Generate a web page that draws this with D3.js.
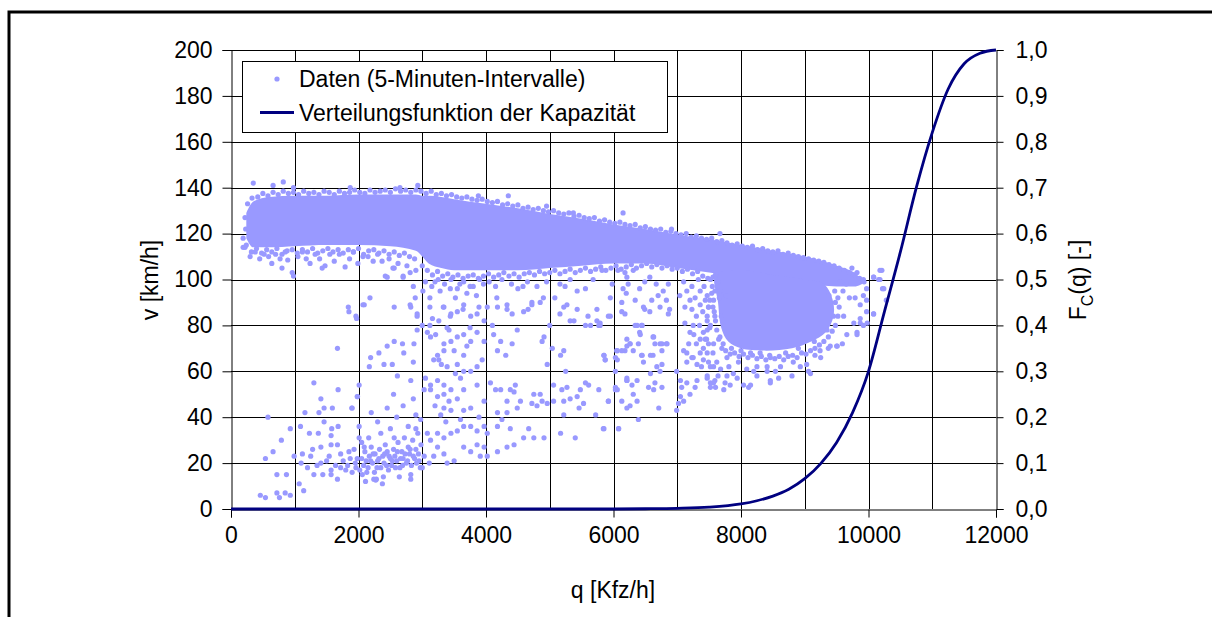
<!DOCTYPE html>
<html>
<head>
<meta charset="utf-8">
<script src="https://cdn.jsdelivr.net/npm/d3@7"></script>
<style>
  html, body { margin: 0; padding: 0; background: #fff; }
  svg { display: block; }
  text { font-family: "Liberation Sans", Arial, sans-serif; fill: #000; }
</style>
</head>
<body>
<svg id="chart" width="1212" height="617"></svg>
<script>
// ---- axis ticks ----
const qTicks = [0, 2000, 4000, 6000, 8000, 10000, 12000];
const qGrid = [1000, 2000, 3000, 4000, 5000, 6000, 7000, 8000, 9000, 10000, 11000];
const vTicks = [0, 20, 40, 60, 80, 100, 120, 140, 160, 180, 200];
const fTicks = [0, 0.1, 0.2, 0.3, 0.4, 0.5, 0.6, 0.7, 0.8, 0.9, 1.0];
const fTickLabels = ["0,0", "0,1", "0,2", "0,3", "0,4", "0,5", "0,6", "0,7", "0,8", "0,9", "1,0"];

// ---- capacity distribution function F_C(q) ----
const capQ = [0, 6000, 6500, 7000, 7500, 8000, 8250, 8500, 8750, 9000, 9250, 9500, 9750, 10000, 10250, 10500, 10750, 11000, 11250, 11500, 11750, 12000];
const capF = [0, 0, 0.0005, 0.0015, 0.004, 0.011, 0.018, 0.028, 0.043, 0.066, 0.099, 0.145, 0.21, 0.30, 0.43, 0.56, 0.70, 0.82, 0.915, 0.97, 0.993, 1.0];

// ---- densely populated free-flow band (5-min intervals overlap completely) ----
const bandQ     = [240, 350, 600, 1000, 1500, 2000, 2500, 2900, 3000, 3100, 3300, 3500, 4000, 4500, 5000, 5500, 6000, 6500, 7000, 7500, 8000, 8500, 9000, 9500, 9800, 9900];
const bandUpper = [129, 134, 136, 136.5, 136.5, 137, 137, 137, 136.5, 136.5, 136, 135, 133, 131, 128.5, 126.5, 124, 122, 119.5, 117.5, 115, 112.5, 110, 106, 102.5, 100];
const bandLower = [118, 114, 114, 114.5, 115, 115, 114.5, 112.5, 110, 107, 105, 104, 104, 104, 105, 106, 107, 107, 105, 103, 101, 99, 98, 97, 97, 98];

// ---- densely populated congested cluster (outline), joined to the band above ----
const congestedOutline = [[7600, 102], [8000, 104], [8500, 102], [9000, 100], [9300, 98], [9440, 91], [9450, 84], [9330, 77], [9100, 73], [8800, 70], [8400, 69], [8000, 70], [7800, 73], [7690, 79], [7640, 90]];

// ---- individual intervals ----
const bandTopEdge = [
  [260,133],[330,135.5],[420,136],[500,137.5],[580,136.5],[660,138],[740,137],[820,138.5],[900,137.5],[980,138],[1060,137],[1140,138.5],[1220,137.5],[1300,138],[1380,137],[1460,138.5],[1540,138],[1620,137],[1700,138.5],[1780,137.5],[1860,138],[1940,139],[2020,138],[2100,137.5],[2180,139],[2260,138],[2340,138.5],[2420,139],[2500,138],[2580,139.5],[2660,138.5],[2740,139],[2820,138],[2900,139],[2980,138.5],
  [3060,137.5],[3140,138.5],[3220,137],[3300,137.5],[3380,136.5],[3460,137],[3540,136],[3620,135.5],[3700,136],[3780,135],[3860,134.5],[3940,135],[4020,134],[4100,133.5],[4180,134],[4260,132.5],[4340,133],[4420,132],[4500,132.5],[4580,131],[4660,131.5],[4740,130.5],[4820,131],[4900,130],[4980,129.5],[5060,130],[5140,129],[5220,128.5],[5300,129],[5380,127.5],[5460,128],[5540,127],[5620,126.5],[5700,127],[5780,125.5],[5860,126],[5940,125],
  [6020,124.5],[6100,125],[6180,124],[6260,123.5],[6340,124],[6420,122.5],[6500,123],[6580,122],[6660,121.5],[6740,122],[6820,120.5],[6900,121],[6980,120],[7060,119.5],[7140,120],[7220,118.5],[7300,119],[7380,118],[7460,117.5],[7540,118],[7620,116.5],[7700,117],[7780,116],[7860,115],[7940,115.5],[8020,114.5],[8100,114],[8180,114.5],[8260,113],[8340,113.5],[8420,112.5],[8500,112],[8580,112.5],[8660,111],[8740,111.5],[8820,110.5],[8900,110],[8980,109.5],[9060,109],[9140,108.5],[9220,108],[9300,107.5],[9380,106.5],[9460,106],[9540,105],[9620,104],[9700,103],[9780,102],[9860,100.5],[9930,99],
  [350,142],[660,141],[820,142.5],[980,140],[1870,140],[2650,140],[2930,141],[3880,136.5],[4350,136.5],[4950,132],[5370,129],[6150,129],[6910,122],[7670,120]
];

const bandBottomEdge = [
  [190,114],[220,127],[230,122],[190,118],[220,114],
  [240,115],[320,112],[400,113.5],[480,111.5],[560,113],[640,112],[720,113.5],[800,111],[880,112.5],[960,113],[1040,111.5],[1120,113],[1200,112],[1280,113.5],[1360,111.5],[1440,112.5],[1520,113.5],[1600,112],[1680,113],[1760,111.5],[1840,113],[1920,112],[2000,113.5],[2080,111],[2160,112.5],[2240,113],[2320,111.5],[2400,112.5],[2480,111],[2560,112],[2640,110.5],[2720,111.5],[2800,110],[2880,109],
  [3000,106],[3080,104],[3160,102],[3240,103.5],[3320,101.5],[3400,102.5],[3480,101],[3560,102],[3640,100.5],[3720,101.5],[3800,102],[3880,100.5],[3960,101.5],[4040,102.5],[4120,101],[4200,102],[4280,103],[4360,101.5],[4440,102.5],[4520,101],[4600,102.5],[4680,103],[4760,102],[4840,103.5],[4920,102.5],[5000,103],[5080,104],[5160,102.5],[5240,103.5],[5320,104.5],[5400,103],[5480,104],[5560,105],[5640,103.5],[5720,104.5],[5800,105.5],[5880,104],[5960,105],[6040,106],[6120,104.5],[6200,105.5],[6280,106.5],[6360,105],[6440,106],[6520,107],[6600,105.5],[6680,106.5],[6760,105],[6840,106],[6920,104.5],[7000,105],[7080,103.5],[7160,104.5],[7240,102.5],[7320,103.5],[7400,101.5],[7480,100.5],[7560,101],
  [640,107],[800,105],[960,103],[980,101.5],[890,108.5],[1240,107],[1430,105],[1475,106],[1790,105.5],[1990,107],[2070,110],[2150,110],[2420,101.5],[2560,105],[2700,101.5],[2810,103],
  [300,110],[380,112],[450,109],[520,111],[590,110],[700,111],[770,109],[850,112],[1050,110],[1120,112],[1180,109],[1320,111],[1390,109],[1550,111],[1620,108],[1700,111],[1860,109],[1920,112],[2230,108],[2300,111],[2370,108],[2480,109],[2620,107],[2760,106],[2900,104],
  [3050,99],[3150,97],[3250,100],[3350,98],[3450,100],[3550,96],[3650,99],[3800,97],[3900,100],[4050,99],[4150,97],[4250,100],[4400,98],[4500,96],[4650,99],[4800,97],[4950,99]
];

const lowSpeedPts = [
  [460,6],[540,5],[720,7],[760,5],[850,7],[930,6],[870,15],[720,15],[540,22],[660,25],[790,30],[930,35],[580,40],
  [1070,11],[1140,8],[1100,20],[1300,15],[1440,15],[1570,15],[1670,13],[1410,20],[1570,17],[1720,18],[1800,17],[1900,16],[1960,18],[1830,19],
  [990,23],[1120,24],[1250,23],[1280,26],[1410,27],[1540,23],[1570,28],[1670,28],[1720,24],[1850,25],[1930,26],[1230,33],[1090,36],[1370,33],[1570,32],[1680,36],[1580,35],[1460,38],
  [1380,42],[1160,42],[1460,44],[1590,44],[1410,48],[1300,55],[1680,52],[1900,44],[1980,49],[2010,54],[2010,36],[2010,31],
  [2020,17],[2050,22],[2080,19],[2100,25],[2120,21],[2150,18],[2170,23],[2200,27],[2220,20],[2250,16],[2260,24],[2300,21],[2330,26],[2350,18],[2380,23],[2400,20],[2420,28],[2450,25],[2470,17],[2500,22],[2520,19],[2550,26],[2570,23],[2600,21],[2620,29],[2650,18],[2680,25],[2700,22],[2720,31],[2750,20],[2780,27],[2800,24],[2830,19],[2850,30],[2880,22],[2900,26],[2930,33],[2950,21],[2980,28],[2110,12],[2280,13],[2390,14],[2160,31],[2350,33],[2500,35],[2640,14],[2820,15],[2050,29],[2240,13],[2560,31],[2270,12.6],[2375,11],[2820,13],
  [2130,16],[2190,21],[2230,24],[2290,18],[2320,22],[2410,24],[2440,19],[2480,23],[2530,21],[2580,18],[2610,25],[2660,22],[2690,19],[2730,24],[2770,21],[2810,26],[2860,23],[2910,20],[2940,24],[2970,18],[2060,15],[2090,27],[1980,22],[1950,20],[1870,22],[1760,21],[1640,19],[1500,21],[1350,19],[1200,18],
  [2860,48],[2900,41],[2820,56],[2610,58],[2975,39],[1895,44],[1985,49],[2600,40],[2450,44],[2700,45],[2780,36],[2900,35],[2300,38],[2200,42],[2550,50],
  [2170,62],[2190,66],[2320,68],[2400,63],[2450,71],[2530,63],[2560,73],[2690,72],[2710,68],[2860,64],[2090,89],[1840,88],[1960,84],[2070,89],[2180,92],[2560,88],[2810,89],[2860,97],[2890,92],[2450,101],[2700,101],[2540,105],[2920,84],[2870,72],[2920,78],[3000,80],[2820,88],
  [1670,70],[1850,86],[1970,83]
];

const transitionPts = [
  [3130,30],[3240,27],[3340,24],[3180,23],[3390,20],[3500,21],[3650,27],[3760,25],[3860,28],[3910,23],[4020,23],[3970,27],[3080,33],[3240,33],[3340,31],[3450,33],[3550,34],[3650,36],[3760,36],[3860,34],[3970,36],[3030,23],[3110,20],[3000,18],
  [3290,41],[3370,38],[3340,44],[3450,43],[3420,47],[3240,49],[3340,50],[3130,52],[3030,52],[3450,52],[3130,54],[3240,56],[3340,54],[3520,59],[3600,57],[3650,52],[3860,54],[3970,47],[3760,44],[3650,43],[3890,40],[3600,39],[3050,57],[3550,48],[3200,45],
  [3180,65],[3260,65],[3390,62],[3550,63],[3650,60],[3760,60],[3860,62],[3940,65],[3240,67],[3340,69],[3340,72],[3450,73],[3550,75],[3650,76],[3760,73],[3860,77],[3130,75],[3210,76],[3080,77],[3650,67],[3500,69],[3970,73],[3300,63],[3420,78],[3700,71],
  [3160,83],[2920,85],[3340,88],[3450,85],[3550,86],[3650,89],[3760,84],[3890,88],[3260,82],[3970,82],[3010,95],[3120,92],[3280,95],[3440,96],[3590,98],[3750,97],[3960,98],[3120,88],[3330,88],[3440,84],[3640,87],[3860,85],[4020,88],[3120,80],[3390,79],[3750,79],[3520,92],[3850,93],[3200,99],[3700,94],
  [4180,25],[4330,27],[4440,28],[4590,31],[4750,31],[4910,31],[4020,33],[4180,36],[4380,35],[4670,35],[5170,33],[5400,31],[5850,35],[6080,35],
  [4070,55],[4150,52],[4230,52],[4380,52],[4460,54],[4440,51],[4330,47],[4540,47],[4720,46],[4850,50],[4880,47],[4750,50],[4180,42],[4330,42],[4490,44],[4800,45],[4960,46],[4250,39],[5060,54],[5190,52],[5270,53],[5320,48],[5220,47],[5430,49],[5480,52],[5560,55],[5610,54],[5770,52],[5220,41],[5060,47],[5460,44],[5530,46],[5720,41],[5920,47],[6060,52],[6210,57],[6030,52],
  [4100,80],[4120,76],[4230,73],[4180,69],[4310,67],[4410,72],[4490,78],[4910,75],[4880,73],[4960,63],[5040,70],[5170,67],[5220,69],[5250,60],[5850,67],[5870,65],[6060,69],[6060,65],[6210,71],[6210,56],
  [4180,88],[4330,89],[4590,86],[4720,89],[4850,90],[5220,88],[5380,82],[5560,80],[5640,80],[5740,82],[5770,80],[5950,84],[6130,86],[4410,85],[4170,92],[4330,87],[4580,97],[4720,90],[4900,92],[4660,87],[5080,92],[5160,98],[5240,97],[5320,100],[5430,95],[5560,96],[5680,100],[5980,98],[6150,96],[5430,87],[5600,84],[5740,87],[5790,81],[5920,84],[5950,92],[5270,89],[5160,85],[5000,80],[5320,82],
  [5820,104],[6070,104],[6210,101],[6180,103],[6310,104],[6230,98],[6200,94],[6340,91],[6410,96],[6490,99],[6570,101],[6670,98],[6700,93],[6830,91],[6780,95],[6860,98],[6600,91],[6470,88],[6490,87],[6570,86],[6730,88],[6860,85],[6880,87],[6130,90],[6180,85],[6340,80],[6440,80],[6410,77],[6620,75],[6260,72],[6390,72],[6730,72],[6830,72],[6620,67],[6440,67],[6180,69],
  [5790,80],[5850,67],[5870,65],[6030,66],[6050,69],[6130,69],[6210,74],[6370,80],[6450,80],[6420,76],[6260,72],[6310,69],[6630,75],[6650,72],[6760,72],[6840,72],[6580,67],[6760,69],[6450,67],[6470,64],[6030,60],[6210,56],[6290,54],[6370,56],[6580,59],[6680,62],[6730,60],[6760,63],[6650,55],[6550,53],[6630,52],[6760,53],[6310,50],[6370,47],[6260,45],[6210,44],[6130,47],[5920,47],[6030,53],[6710,44],[6390,39],[5840,35],[6080,35]
];

const congestedPts = [
  [6990,60],[7050,56],[7070,53],[7150,55],[7200,50],[7280,53],[7310,56],[7050,49],[7020,46],[7100,47],[6990,43],[7150,64],[7230,66],[7360,68],[7310,63],[7100,69],[7180,72],[7260,76],[7360,74],[7470,78],[7490,72],[7410,65],[7520,62],[7620,64],[7590,56],[7470,57],[7520,53],[7570,55],[7750,55],[7780,58],[7880,59],[7940,57],[8040,54],[8120,53],[8200,60],[8250,58],[8410,60],[8460,56],[8540,60],[8590,57],[8800,58],[8930,62],[9060,60],[9030,63],[9250,66],[9400,71],[9510,71],[9660,76],[9820,76],[9980,81],[10080,85],[9870,81],
  [7040,93],[7150,95],[7200,91],[7360,95],[7120,88],[7360,89],[7490,88],[7510,91],[7230,87],[7300,84],[7470,82],[7590,84],[7120,81],[7200,77],[7410,77],[7510,79],[7300,72],[7410,70],[7150,68],[7250,66],[7570,72],[7670,75],[7670,95],[7770,93],
  [7470,58],[7520,55],[7600,53],[7730,52],[7830,54],[8150,54],[8460,55],[9090,59],[9160,67],[9240,69],[9370,70],[9500,71],[9590,72],[9820,77],[9920,80],[9770,81],[9610,84],[9870,83],[9970,86],[9870,89],[9790,92],[9920,93],[9970,91],[9970,96],[9920,100],[10080,101],[10210,104],[10180,100],[10220,96],[10280,91],[9820,103],[9740,105],
  [7440,91],[7470,93],[7490,88],[7470,84],[7520,80],[7440,74],[7470,68],[7490,64],[7570,62],[7680,61],[7810,62],[7960,64],[8090,61],[8250,62],[8410,62],[8620,62],[8820,64],
  [10180,104],[10080,101],[10160,100],[10240,96],[10080,85],
  [7650,74],[7700,70],[7760,69],[7830,67.5],[7900,68],[7970,66.5],[8040,67.5],[8110,66],[8180,67],[8250,65.5],[8320,66.5],[8390,65],[8460,66],[8530,65.5],[8600,66.5],[8670,65],[8740,66.5],[8810,67],[8880,66],[8950,68],[9020,67.5],[9090,69],[9160,70],[9230,71.5],[9300,73],[9370,75],[9430,77.5],[9480,80],[9520,84],[9540,88],[9520,92],[9470,95],[9600,95],[9650,98],[9700,92],[9560,99],
  [7600,82],[7580,86],[7570,91],[7590,95],[7620,78],[7640,99],[7550,97],[7520,100],[7600,102],
  [7720,72],[7780,66],[7850,70],[8000,69],[8150,68],[8300,68],[8450,67],[8700,68],[8900,70],[9150,73],[9350,78],[9450,84],[9480,90],[9380,93],[7690,84],[7660,92],
  [7100,99],[7230,97],[7330,100],[7420,97],[7540,94],[7280,92],[7400,86],[7560,88],[7350,80],[7250,80],[7460,74],[7560,68],[7380,62],[7640,58]
];

// ---- geometry ----
const svg = d3.select("#chart");
const W = 1212, H = 617;
const x = d3.scaleLinear().domain([0, 12000]).range([231, 996]);
const yV = d3.scaleLinear().domain([0, 200]).range([509, 50]);
const yF = d3.scaleLinear().domain([0, 1]).range([509, 50]);
const crisp = v => Math.round(v) + 0.5;
const DOT = "#9999FF", NAVY = "#000080", FONT = 23, R = 2.6;

svg.append("rect").attr("width", W).attr("height", H).attr("fill", "#fff");

// outer chart frame (top and left edges)
svg.append("path")
  .attr("d", `M9,${H} V12 H${W}`)
  .attr("fill", "none").attr("stroke", "#000").attr("stroke-width", 3);

// gridlines
const grid = svg.append("g").attr("stroke", "#000").attr("stroke-width", 1);
grid.selectAll("line.v").data(qGrid).join("line").attr("class", "v")
  .attr("x1", d => crisp(x(d))).attr("x2", d => crisp(x(d)))
  .attr("y1", yV(200)).attr("y2", yV(0));
grid.selectAll("line.h").data(vTicks.filter(d => d > 0)).join("line").attr("class", "h")
  .attr("y1", d => crisp(yV(d))).attr("y2", d => crisp(yV(d)))
  .attr("x1", x(0)).attr("x2", x(12000));

// axes
const fmtInt = d3.format("d");
const axL = d3.axisLeft(yV).tickValues(vTicks).tickSize(9).tickPadding(10).tickFormat(fmtInt);
const axB = d3.axisBottom(x).tickValues(qTicks).tickSize(8).tickPadding(8).tickFormat(fmtInt);
const axR = d3.axisRight(yF).tickValues(fTicks).tickSize(7).tickPadding(12).tickFormat((d, i) => fTickLabels[i]);

function styleAxis(g) {
  g.select(".domain").attr("stroke", "#000").attr("stroke-width", 1);
  g.selectAll(".tick line").attr("stroke", "#000").attr("stroke-width", 1);
  g.selectAll(".tick text").attr("font-size", FONT).attr("font-family", "Liberation Sans, Arial, sans-serif").attr("fill", "#000");
}
svg.append("g").attr("transform", "translate(231.5,0)").call(axL).call(styleAxis);
svg.append("g").attr("transform", "translate(0,509.5)").call(axB).call(styleAxis)
  .selectAll(".tick text").attr("dy", "0.78em");
svg.append("g").attr("transform", "translate(996.5,0)").call(axR).call(styleAxis);

// data points
const pts = svg.append("g").attr("fill", DOT);
pts.append("path")
  .datum(bandQ.map((q, i) => ({ q, hi: bandUpper[i], lo: bandLower[i] })))
  .attr("d", d3.area().x(d => x(d.q)).y0(d => yV(d.lo)).y1(d => yV(d.hi)).curve(d3.curveMonotoneX));
pts.append("path")
  .datum(congestedOutline)
  .attr("d", d3.line().x(d => x(d[0])).y(d => yV(d[1])).curve(d3.curveCatmullRomClosed));
const allPts = [].concat(bandTopEdge, bandBottomEdge, lowSpeedPts, transitionPts, congestedPts);
pts.selectAll("circle").data(allPts).join("circle")
  .attr("cx", d => x(d[0])).attr("cy", d => yV(d[1])).attr("r", R);

// capacity distribution curve
svg.append("path")
  .datum(capQ.map((q, i) => [q, capF[i]]))
  .attr("fill", "none").attr("stroke", NAVY).attr("stroke-width", 2.8)
  .attr("d", d3.line().x(d => x(d[0])).y(d => yF(d[1])).curve(d3.curveMonotoneX));

// axis titles
svg.append("text").attr("transform", "translate(150,280) rotate(-90)")
  .attr("text-anchor", "middle").attr("dy", "0.35em").attr("font-size", FONT).text("v [km/h]");
const ft = svg.append("text").attr("transform", "translate(1078,280) rotate(-90)")
  .attr("text-anchor", "middle").attr("dy", "0.35em").attr("font-size", FONT);
ft.append("tspan").text("F");
ft.append("tspan").attr("font-size", 16).attr("dy", "0.45em").text("C");
ft.append("tspan").attr("dy", "-0.3em").text("(q) [-]");
svg.append("text").attr("x", 613).attr("y", 598).attr("text-anchor", "middle")
  .attr("font-size", FONT).text("q [Kfz/h]");

// legend
const lg = svg.append("g");
lg.append("rect").attr("x", 242.5).attr("y", 61.5).attr("width", 425).attr("height", 71)
  .attr("fill", "#fff").attr("stroke", "#000").attr("stroke-width", 1);
lg.append("circle").attr("cx", 277).attr("cy", 79).attr("r", R).attr("fill", DOT);
lg.append("text").attr("x", 299).attr("y", 87).attr("font-size", FONT).text("Daten (5-Minuten-Intervalle)");
lg.append("line").attr("x1", 260).attr("x2", 294).attr("y1", 112.5).attr("y2", 112.5)
  .attr("stroke", NAVY).attr("stroke-width", 2.8);
lg.append("text").attr("x", 299).attr("y", 121).attr("font-size", FONT).text("Verteilungsfunktion der Kapazität");
</script>
</body>
</html>
